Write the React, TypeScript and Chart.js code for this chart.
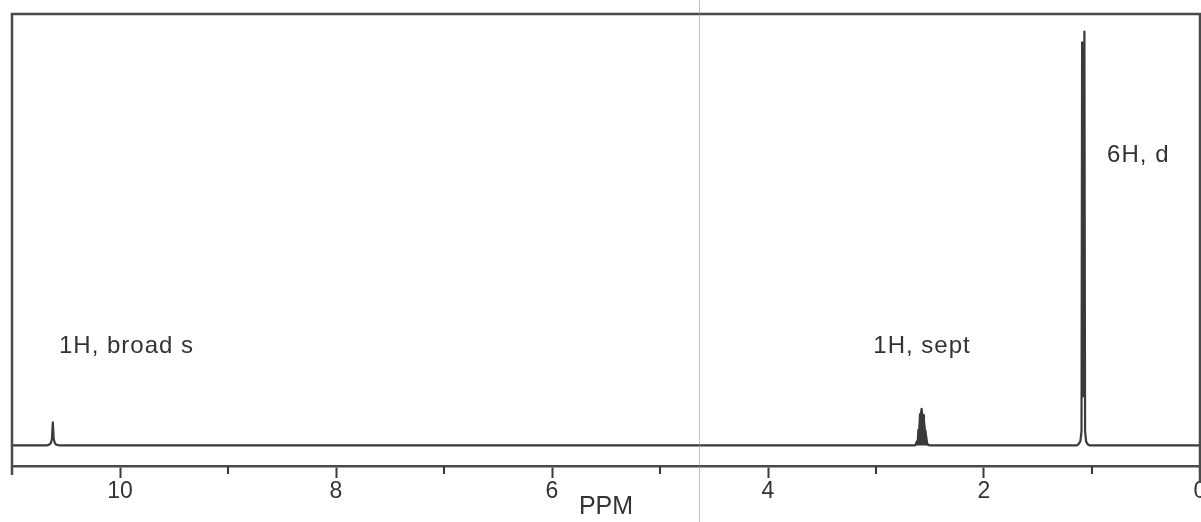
import React, { useEffect, useRef } from "react";
import { Chart, registerables } from "chart.js";

Chart.register(...registerables);

// Spectrum trace (chemical shift in ppm, relative intensity)
const spectrumPpm = [
  11.0, 10.68, 10.655, 10.64, 10.63, 10.622, 10.614, 10.604, 10.59, 10.56,
  2.66, 2.635, 2.6215, 2.614, 2.607, 2.6, 2.5925, 2.585, 2.578, 2.571, 2.5635, 2.556, 2.549, 2.542, 2.5345, 2.527, 2.515, 2.49,
  1.14, 1.125, 1.108, 1.097, 1.0916, 1.081, 1.0703, 1.064, 1.055, 1.04, 1.02,
  0.0,
];
const spectrumIntensity = [
  0, 0, 0.2, 0.6, 1.6, 5.6, 1.6, 0.6, 0.2, 0,
  0, 0.1, 1.0, 0.9, 3.8, 3.4, 7.6, 7.2, 8.9, 7.4, 7.4, 6.0, 4.2, 3.5, 2.0, 0.6, 0.1, 0,
  0, 0.3, 1.0, 3.5, 98.1, 12, 100.7, 3.5, 1.0, 0.3, 0,
  0,
];

// Multiplet drawn as a solid block (septet range, ppm)
const solidRange = [2.49, 2.66];

// Peak annotations
const labelTexts = ["1H, broad s", "1H, sept", "6H, d"];
const labelPpm = [10.565, 3.025, 0.86];
const labelIntensity = [22.5, 22.5, 69];

// Axis
const ppmMin = 0;
const ppmMax = 11;
const axisTitle = "PPM";
const foldLinePpm = [4.64];

const FONT = "'Liberation Sans', Arial, Helvetica, sans-serif";
const INK = "#3a3a3a";

const decorPlugin = {
  id: "decor",
  beforeDraw(chart: any) {
    const { ctx, width, height } = chart;
    ctx.save();
    ctx.fillStyle = "#ffffff";
    ctx.fillRect(0, 0, width, height);
    ctx.restore();
  },
  afterDraw(chart: any) {
    const { ctx, chartArea } = chart;
    const xs = chart.scales.x;
    const ys = chart.scales.y;
    ctx.save();
    // frame
    ctx.strokeStyle = "#4a4a4a";
    ctx.lineWidth = 2.5;
    ctx.beginPath();
    ctx.moveTo(chartArea.left, chartArea.bottom + 9);
    ctx.lineTo(chartArea.left, chartArea.top);
    ctx.lineTo(chartArea.right, chartArea.top);
    ctx.lineTo(chartArea.right, chartArea.bottom + 17);
    ctx.stroke();
    // minor ticks at odd ppm
    ctx.lineWidth = 2;
    ctx.strokeStyle = INK;
    for (let v = 1; v < ppmMax; v += 2) {
      const px = Math.round(xs.getPixelForValue(v));
      ctx.beginPath();
      ctx.moveTo(px, chartArea.bottom);
      ctx.lineTo(px, chartArea.bottom + 8);
      ctx.stroke();
    }
    // fold line (scan artifact)
    ctx.strokeStyle = "rgba(150,150,150,0.55)";
    ctx.lineWidth = 1;
    foldLinePpm.forEach((p) => {
      const px = Math.round(xs.getPixelForValue(p)) + 0.5;
      ctx.beginPath();
      ctx.moveTo(px, 0);
      ctx.lineTo(px, chart.height);
      ctx.stroke();
    });
    // annotations
    ctx.fillStyle = "#333333";
    ctx.font = `24px ${FONT}`;
    try { (ctx as any).letterSpacing = "1px"; } catch (e) {}
    ctx.textAlign = "left";
    ctx.textBaseline = "alphabetic";
    labelTexts.forEach((t, i) => {
      ctx.fillText(t, xs.getPixelForValue(labelPpm[i]), ys.getPixelForValue(labelIntensity[i]));
    });
    ctx.restore();
  },
};

export default function App() {
  const ref = useRef<HTMLCanvasElement | null>(null);
  useEffect(() => {
    if (!ref.current) return;
    const data = spectrumPpm.map((p, i) => ({ x: p, y: spectrumIntensity[i] }));
    const solidData = data.filter((d) => d.x >= solidRange[0] && d.x <= solidRange[1]);
    const chart = new Chart(ref.current, {
      type: "line",
      data: {
        datasets: [
          {
            data: solidData,
            borderColor: INK,
            borderWidth: 1,
            borderJoinStyle: "round",
            backgroundColor: INK,
            pointRadius: 0,
            tension: 0,
            fill: "origin",
          },
          {
            data,
            borderColor: INK,
            borderWidth: 2.2,
            borderJoinStyle: "round",
            pointRadius: 0,
            tension: 0,
            fill: false,
          },
        ],
      },
      options: {
        animation: false,
        responsive: false,
        maintainAspectRatio: false,
        layout: { padding: { left: 12, right: 1, top: 14, bottom: 0 } },
        plugins: { legend: { display: false }, tooltip: { enabled: false } },
        scales: {
          x: {
            type: "linear",
            reverse: true,
            min: ppmMin,
            max: ppmMax,
            afterFit: (s: any) => {
              s.height = 56;
              s.paddingLeft = 0;
              s.paddingRight = 0;
            },
            afterBuildTicks: (s: any) => {
              const t = [];
              for (let v = ppmMin; v <= ppmMax; v++) t.push({ value: v });
              s.ticks = t;
            },
            ticks: {
              autoSkip: false,
              maxRotation: 0,
              padding: 0,
              color: "#333333",
              font: { family: FONT, size: 23 },
              callback: (v: any) => (Number(v) % 2 === 0 && Number(v) <= 10 ? String(v) : ""),
            },
            grid: {
              drawOnChartArea: false,
              drawTicks: true,
              tickLength: 12,
              tickWidth: 2,
              tickColor: (c: any) => {
                const v = c.tick ? c.tick.value : 1;
                return v % 2 === 0 && v <= 10 && v > 0 ? INK : "rgba(0,0,0,0)";
              },
            },
            border: { display: true, color: "#4a4a4a", width: 2.5 },
            title: {
              display: true,
              text: axisTitle,
              color: "#333333",
              font: { family: FONT, size: 25 },
              padding: 0,
            },
          },
          y: {
            display: false,
            min: -5,
            max: 105,
          },
        },
      },
      plugins: [decorPlugin],
    });
    return () => chart.destroy();
  }, []);
  return (
    <div style={{ position: "fixed", left: 0, top: 0, width: 1201, height: 522, background: "#fff" }}>
      <canvas ref={ref} width={1201} height={522} style={{ display: "block", width: 1201, height: 522 }} />
    </div>
  );
}
